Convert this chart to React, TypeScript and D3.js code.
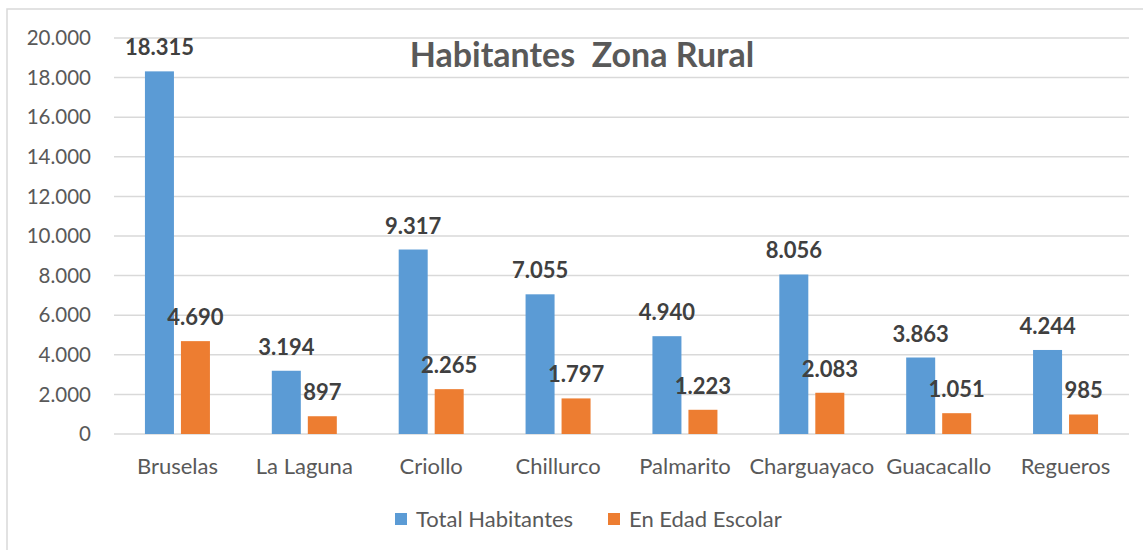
import React from 'react'
import * as d3 from 'd3'

const categories = ['Bruselas', 'La Laguna', 'Criollo', 'Chillurco', 'Palmarito', 'Charguayaco', 'Guacacallo', 'Regueros']
const totalHabitantes = [18315, 3194, 9317, 7055, 4940, 8056, 3863, 4244]
const enEdadEscolar = [4690, 897, 2265, 1797, 1223, 2083, 1051, 985]
const seriesNames = ['Total Habitantes', 'En Edad Escolar']
const yTicks = [0, 2000, 4000, 6000, 8000, 10000, 12000, 14000, 16000, 18000, 20000]

const colors = ['#5b9bd5', '#ed7d31']
const font = 'Lato, "Open Sans", sans-serif'

const locale = d3.formatLocale({ decimal: ',', thousands: '.', grouping: [3], currency: ['', ''] })
const fmt = locale.format(',d')

export default function App() {
  const W = 1143
  const H = 550
  const left = 114, right = 1129, top = 38, bottom = 434

  const x0 = d3.scaleBand().domain(categories).range([left, right]).padding(0)
  const x1 = d3.scaleBand().domain(seriesNames).range([0, 65]).paddingInner(7 / 36).paddingOuter(0)
  const y = d3.scaleLinear().domain([0, 20000]).range([bottom, top])
  const offset = (x0.bandwidth() - 65) / 2

  const series = [totalHabitantes, enEdadEscolar]

  return (
    <svg width={W} height={H} style={{ position: 'absolute', left: 0, top: 0, background: '#fff' }}>
      {/* chart border */}
      <rect x={7} y={9} width={W + 10} height={H + 10} fill="#fff" stroke="#d9d9d9" strokeWidth={1.5} />

      {/* gridlines + y ticks */}
      {yTicks.map(t => (
        <g key={t}>
          <line x1={left} x2={right} y1={y(t)} y2={y(t)} stroke="#d9d9d9" strokeWidth={1.5} />
          <text x={91} y={y(t)} dy="0.35em" textAnchor="end" fontFamily={font} fontSize={20.5} fill="#595959">
            {fmt(t)}
          </text>
        </g>
      ))}

      {/* title */}
      <text x={582} y={67} textAnchor="middle" fontFamily={font} fontSize={34} fontWeight="bold" fill="#595959" xmlSpace="preserve">
        Habitantes  Zona Rural
      </text>

      {/* bars */}
      {categories.map((c, i) => (
        <g key={c} transform={`translate(${x0(c)! + offset},0)`}>
          {series.map((s, j) => {
            const bx = x1(seriesNames[j])!
            const bw = x1.bandwidth()
            return (
              <g key={j}>
                <rect x={bx} y={y(s[i])} width={bw} height={y(0) - y(s[i])} fill={colors[j]} />
                <text x={bx + bw / 2} y={y(s[i]) - 16} textAnchor="middle" fontFamily={font} fontSize={22} fontWeight="bold" fill="#404040">
                  {fmt(s[i])}
                </text>
              </g>
            )
          })}
          <text x={32.5} y={466} dy="0.35em" textAnchor="middle" fontFamily={font} fontSize={22} fill="#595959">
            {c}
          </text>
        </g>
      ))}

      {/* legend */}
      {seriesNames.map((n, j) => {
        const lx = [395, 608][j]
        return (
          <g key={n}>
            <rect x={lx} y={513} width={12} height={12} fill={colors[j]} />
            <text x={lx + 21} y={519} dy="0.35em" fontFamily={font} fontSize={22} fill="#595959">
              {n}
            </text>
          </g>
        )
      })}
    </svg>
  )
}
